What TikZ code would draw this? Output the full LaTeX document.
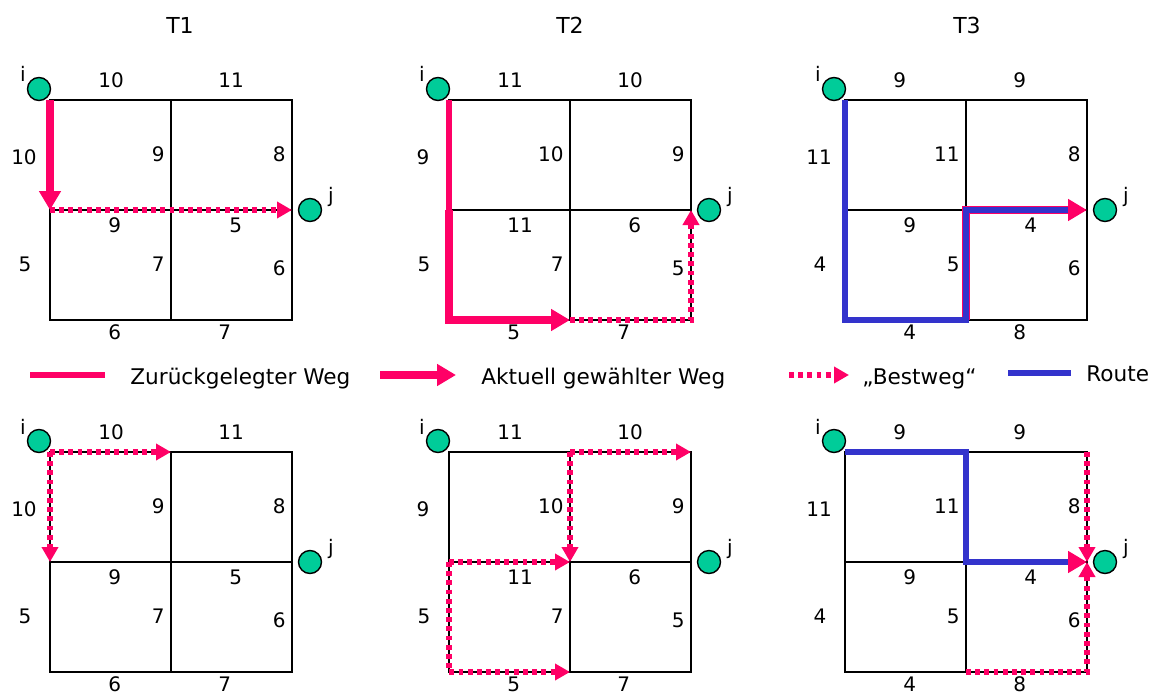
\documentclass[tikz,border=0pt]{standalone}
\usepackage{fontspec}
\setmainfont{DejaVu Sans}
\usetikzlibrary{arrows.meta}
\definecolor{wegrot}{RGB}{255,0,102}
\definecolor{routeblau}{RGB}{51,51,204}
\definecolor{knotengruen}{RGB}{0,204,153}

% Netz mit 2x2 Feldern, Start i und Ziel j
\newcommand{\gitter}[3]{%
  \foreach \i in {0,1,2}{\foreach \j in {0,1,2}{
    \coordinate (#1-\i\j) at ({#2+121*\i},{#3+110*\j});}}
  \draw[netz] (#1-00) rectangle (#1-22);
  \draw[netz] (#1-10) -- (#1-12);
  \draw[netz] (#1-01) -- (#1-21);
  \node[knoten] (#1-i) at ([shift={(-11,-11)}]#1-00) {};
  \node[knoten] (#1-j) at ([shift={(18,0)}]#1-21) {};
  \node[zahl, anchor=base] (#1-il) at ([shift={(-16,-7)}]#1-i) {i};
  \node[zahl, anchor=base] (#1-jl) at ([shift={(21,-8)}]#1-j) {j};
}
% waagrechte Kanten: oben, Mitte, unten
\newcommand{\kantenH}[7]{%
  \node[zahl, anchor=west] (#1-h1) at ([shift={(48,-20)}]#1-00) {#2};
  \node[zahl, anchor=west] (#1-h2) at ([shift={(168,-20)}]#1-00) {#3};
  \node[zahl, anchor=west] (#1-h3) at ([shift={(58,15)}]#1-01) {#4};
  \node[zahl, anchor=west] (#1-h4) at ([shift={(179,15)}]#1-01) {#5};
  \node[zahl, anchor=west] (#1-h5) at ([shift={(58,12)}]#1-02) {#6};
  \node[zahl, anchor=west] (#1-h6) at ([shift={(168,12)}]#1-02) {#7};
}
% senkrechte Kanten: links, Mitte, rechts
\newcommand{\kantenV}[7]{%
  \node[zahl] (#1-v1) at ([shift={(-26,57)}]#1-00) {#2};
  \node[zahl] (#1-v2) at ([shift={(-25,164)}]#1-00) {#3};
  \node[zahl, anchor=east] (#1-v3) at ([shift={(-6,54)}]#1-10) {#4};
  \node[zahl, anchor=east] (#1-v4) at ([shift={(-6,164)}]#1-10) {#5};
  \node[zahl, anchor=east] (#1-v5) at ([shift={(-6,54)}]#1-20) {#6};
  \node[zahl, anchor=east] (#1-v6) at ([shift={(-6,168)}]#1-20) {#7};
}

\begin{document}
\begin{tikzpicture}[x=0.5pt, y=-0.5pt,
    netz/.style={draw=black, line width=1.1pt},
    knoten/.style={circle, draw=black, line width=0.7pt, fill=knotengruen,
                   minimum size=11.5pt, inner sep=0pt},
    zahl/.style={font=\fontsize{10}{12}\selectfont, inner sep=0pt},
    titel/.style={font=\fontsize{11}{13}\selectfont, inner sep=0pt},
    legende/.style={font=\fontsize{10.8}{13}\selectfont, anchor=base west, inner sep=0pt},
    zurueck/.style={draw=wegrot, line width=2.8pt},
    aktuell/.style={draw=wegrot, line width=4pt,
                    -{Triangle[length=9.5pt, width=10.5pt]}},
    best/.style={draw=wegrot, line width=2.8pt, dash pattern=on 2.4pt off 2.2pt,
                 -{Triangle[length=7.5pt, width=8pt]}},
    route/.style={draw=routeblau, line width=3.1pt}
  ]
  \useasboundingbox (0,0) rectangle (1159,695);

  \node[titel] (t1) at (180,25) {T1};
  \node[titel] (t2) at (570,25) {T2};
  \node[titel] (t3) at (967,25) {T3};

  \foreach \r/\yy in {o/100,u/452}{
    \gitter{A\r}{50}{\yy}
    \kantenH{A\r}{10}{11}{9}{5}{6}{7}
    \kantenV{A\r}{10}{5}{9}{7}{8}{6}
    \gitter{B\r}{449}{\yy}
    \kantenH{B\r}{11}{10}{11}{6}{5}{7}
    \kantenV{B\r}{9}{5}{10}{7}{9}{5}
    \gitter{C\r}{845}{\yy}
    \kantenH{C\r}{9}{9}{9}{4}{4}{8}
    \kantenV{C\r}{11}{4}{11}{5}{8}{6}
  }

  % T1 oben
  \draw[aktuell] (Ao-00) -- (Ao-01);
  \draw[best] (Ao-01) -- (Ao-21);
  % T2 oben
  \draw[zurueck] (Bo-00) -- (Bo-01);
  \draw[aktuell] (Bo-01) |- (Bo-12);
  \draw[best] (Bo-12) -| (Bo-21);
  % T3 oben
  \draw[aktuell] (Co-12) |- (Co-21);
  \draw[route, shorten >=9.5pt] (Co-00) -- (Co-02) -- (Co-12) -- (Co-11) -- (Co-21);

  % T1 unten
  \draw[best] (Au-00) -- (Au-10);
  \draw[best] (Au-00) -- (Au-01);
  % T2 unten
  \draw[best] (Bu-01) -- (Bu-11);
  \draw[best] (Bu-01) |- (Bu-12);
  \draw[best] (Bu-10) -- (Bu-20);
  \draw[best] (Bu-10) -- (Bu-11);
  % T3 unten
  \draw[best] (Cu-20) -- (Cu-21);
  \draw[best] (Cu-12) -| (Cu-21);
  \draw[route, -{Triangle[length=9.5pt, width=10.5pt, color=wegrot]}]
    (Cu-00) -| (Cu-11) -- (Cu-21);

  % Legende
  \coordinate (lz1) at (30,375);
  \coordinate (lz2) at (105,375);
  \draw[zurueck] (lz1) -- (lz2);
  \node[legende] (tz) at (130,384) {Zurückgelegter Weg};
  \coordinate (la1) at (380,375);
  \coordinate (la2) at (456,375);
  \draw[aktuell] (la1) -- (la2);
  \node[legende] (ta) at (481,384) {Aktuell gewählter Weg};
  \coordinate (lb1) at (789,375);
  \coordinate (lb2) at (849,375);
  \draw[best] (lb1) -- (lb2);
  \node[legende] (tb) at (862,384) {„Bestweg“};
  \coordinate (lr1) at (1008,373);
  \coordinate (lr2) at (1071,373);
  \draw[route] (lr1) -- (lr2);
  \node[legende] (tr) at (1086,381) {Route};
\end{tikzpicture}
\end{document}
